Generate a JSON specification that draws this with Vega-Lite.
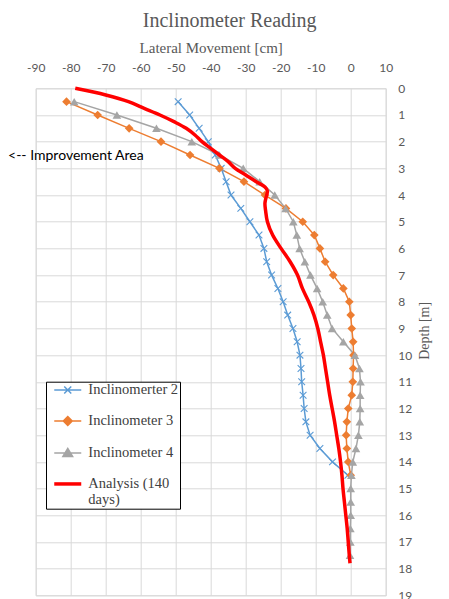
{
  "$schema": "https://vega.github.io/schema/vega-lite/v6.json",
  "width": 350,
  "height": 507,
  "autosize": {"type": "none"},
  "padding": {"left": 35.7, "top": 88.3, "right": 63.3, "bottom": 3.7},
  "background": "white",
  "config": {
    "view": {"stroke": "#D9D9D9"},
    "axis": {
      "grid": true,
      "gridColor": "#D9D9D9",
      "gridWidth": 1,
      "ticks": false,
      "domain": false,
      "labelFont": "Lato",
      "labelFontSize": 12,
      "labelColor": "#595959",
      "labelFlush": false,
      "labelOverlap": false,
      "titleFont": "Liberation Serif",
      "titleFontWeight": "normal",
      "titleColor": "#595959"
    },
    "legend": {"labelFont": "Liberation Serif"}
  },
  "title": {
    "text": "Inclinometer Reading",
    "font": "Liberation Serif",
    "fontSize": 20,
    "fontWeight": "normal",
    "color": "#595959",
    "anchor": "middle",
    "dx": 19,
    "offset": 9
  },
  "data": {
    "values": [
      {"series": "Inclinomerter 2", "depth": 0.5, "movement": -49.3},
      {"series": "Inclinomerter 2", "depth": 1.0, "movement": -46.0},
      {"series": "Inclinomerter 2", "depth": 1.5, "movement": -43.3},
      {"series": "Inclinomerter 2", "depth": 2.0, "movement": -40.7},
      {"series": "Inclinomerter 2", "depth": 2.5, "movement": -38.7},
      {"series": "Inclinomerter 2", "depth": 3.0, "movement": -37.0},
      {"series": "Inclinomerter 2", "depth": 3.5, "movement": -35.6},
      {"series": "Inclinomerter 2", "depth": 4.0, "movement": -34.2},
      {"series": "Inclinomerter 2", "depth": 4.5, "movement": -31.4},
      {"series": "Inclinomerter 2", "depth": 5.0, "movement": -28.8},
      {"series": "Inclinomerter 2", "depth": 5.5, "movement": -26.2},
      {"series": "Inclinomerter 2", "depth": 6.0, "movement": -24.8},
      {"series": "Inclinomerter 2", "depth": 6.5, "movement": -24.0},
      {"series": "Inclinomerter 2", "depth": 7.0, "movement": -22.6},
      {"series": "Inclinomerter 2", "depth": 7.5, "movement": -20.8},
      {"series": "Inclinomerter 2", "depth": 8.0, "movement": -19.3},
      {"series": "Inclinomerter 2", "depth": 8.5, "movement": -18.0},
      {"series": "Inclinomerter 2", "depth": 9.0, "movement": -16.5},
      {"series": "Inclinomerter 2", "depth": 9.5, "movement": -15.3},
      {"series": "Inclinomerter 2", "depth": 10.0, "movement": -14.5},
      {"series": "Inclinomerter 2", "depth": 10.5, "movement": -14.2},
      {"series": "Inclinomerter 2", "depth": 11.0, "movement": -14.0},
      {"series": "Inclinomerter 2", "depth": 11.5, "movement": -13.6},
      {"series": "Inclinomerter 2", "depth": 12.0, "movement": -13.3},
      {"series": "Inclinomerter 2", "depth": 12.5, "movement": -12.8},
      {"series": "Inclinomerter 2", "depth": 13.0, "movement": -11.6},
      {"series": "Inclinomerter 2", "depth": 13.5, "movement": -8.8},
      {"series": "Inclinomerter 2", "depth": 14.0, "movement": -5.2},
      {"series": "Inclinomerter 2", "depth": 14.5, "movement": -0.8},

      {"series": "Inclinometer 3", "depth": 0.5, "movement": -81.2},
      {"series": "Inclinometer 3", "depth": 1.0, "movement": -72.3},
      {"series": "Inclinometer 3", "depth": 1.5, "movement": -63.3},
      {"series": "Inclinometer 3", "depth": 2.0, "movement": -54.2},
      {"series": "Inclinometer 3", "depth": 2.5, "movement": -45.9},
      {"series": "Inclinometer 3", "depth": 3.0, "movement": -37.5},
      {"series": "Inclinometer 3", "depth": 3.5, "movement": -30.5},
      {"series": "Inclinometer 3", "depth": 4.0, "movement": -24.5},
      {"series": "Inclinometer 3", "depth": 4.5, "movement": -18.5},
      {"series": "Inclinometer 3", "depth": 5.0, "movement": -13.7},
      {"series": "Inclinometer 3", "depth": 5.5, "movement": -10.4},
      {"series": "Inclinometer 3", "depth": 6.0, "movement": -8.8},
      {"series": "Inclinometer 3", "depth": 6.5, "movement": -7.3},
      {"series": "Inclinometer 3", "depth": 7.0, "movement": -5.0},
      {"series": "Inclinometer 3", "depth": 7.5, "movement": -2.1},
      {"series": "Inclinometer 3", "depth": 8.0, "movement": -0.4},
      {"series": "Inclinometer 3", "depth": 8.5, "movement": 0.0},
      {"series": "Inclinometer 3", "depth": 9.0, "movement": 0.3},
      {"series": "Inclinometer 3", "depth": 9.5, "movement": 0.7},
      {"series": "Inclinometer 3", "depth": 10.0, "movement": 0.8},
      {"series": "Inclinometer 3", "depth": 10.5, "movement": 0.7},
      {"series": "Inclinometer 3", "depth": 11.0, "movement": 0.6},
      {"series": "Inclinometer 3", "depth": 11.5, "movement": 0.3},
      {"series": "Inclinometer 3", "depth": 12.0, "movement": -0.7},
      {"series": "Inclinometer 3", "depth": 12.5, "movement": -1.1},
      {"series": "Inclinometer 3", "depth": 13.0, "movement": -1.3},
      {"series": "Inclinometer 3", "depth": 13.5, "movement": -1.1},
      {"series": "Inclinometer 3", "depth": 14.0, "movement": -0.7},
      {"series": "Inclinometer 3", "depth": 14.5, "movement": 0.0},

      {"series": "Inclinometer 4", "depth": 0.5, "movement": -79.0},
      {"series": "Inclinometer 4", "depth": 1.0, "movement": -66.8},
      {"series": "Inclinometer 4", "depth": 1.5, "movement": -55.5},
      {"series": "Inclinometer 4", "depth": 2.0, "movement": -45.4},
      {"series": "Inclinometer 4", "depth": 2.5, "movement": -37.5},
      {"series": "Inclinometer 4", "depth": 3.0, "movement": -30.7},
      {"series": "Inclinometer 4", "depth": 3.5, "movement": -26.0},
      {"series": "Inclinometer 4", "depth": 4.0, "movement": -21.7},
      {"series": "Inclinometer 4", "depth": 4.5, "movement": -18.6},
      {"series": "Inclinometer 4", "depth": 5.0, "movement": -16.4},
      {"series": "Inclinometer 4", "depth": 5.5, "movement": -15.4},
      {"series": "Inclinometer 4", "depth": 6.0, "movement": -14.6},
      {"series": "Inclinometer 4", "depth": 6.5, "movement": -13.1},
      {"series": "Inclinometer 4", "depth": 7.0, "movement": -11.5},
      {"series": "Inclinometer 4", "depth": 7.5, "movement": -9.6},
      {"series": "Inclinometer 4", "depth": 8.0, "movement": -8.0},
      {"series": "Inclinometer 4", "depth": 8.5, "movement": -6.7},
      {"series": "Inclinometer 4", "depth": 9.0, "movement": -5.3},
      {"series": "Inclinometer 4", "depth": 9.5, "movement": -2.1},
      {"series": "Inclinometer 4", "depth": 10.0, "movement": 1.2},
      {"series": "Inclinometer 4", "depth": 10.5, "movement": 2.5},
      {"series": "Inclinometer 4", "depth": 11.0, "movement": 2.8},
      {"series": "Inclinometer 4", "depth": 11.5, "movement": 2.7},
      {"series": "Inclinometer 4", "depth": 12.0, "movement": 2.7},
      {"series": "Inclinometer 4", "depth": 12.5, "movement": 2.6},
      {"series": "Inclinometer 4", "depth": 13.0, "movement": 2.2},
      {"series": "Inclinometer 4", "depth": 13.5, "movement": 1.5},
      {"series": "Inclinometer 4", "depth": 14.0, "movement": 0.6},
      {"series": "Inclinometer 4", "depth": 14.5, "movement": 0.2},
      {"series": "Inclinometer 4", "depth": 15.0, "movement": 0.0},
      {"series": "Inclinometer 4", "depth": 15.5, "movement": 0.0},
      {"series": "Inclinometer 4", "depth": 16.0, "movement": 0.0},
      {"series": "Inclinometer 4", "depth": 16.5, "movement": -0.1},
      {"series": "Inclinometer 4", "depth": 17.0, "movement": -0.1},
      {"series": "Inclinometer 4", "depth": 17.5, "movement": -0.2},

      {"series": "Analysis (140 days)", "depth": 0.0, "movement": -78.7},
      {"series": "Analysis (140 days)", "depth": 0.25, "movement": -70.0},
      {"series": "Analysis (140 days)", "depth": 0.5, "movement": -63.5},
      {"series": "Analysis (140 days)", "depth": 0.75, "movement": -59.0},
      {"series": "Analysis (140 days)", "depth": 1.0, "movement": -54.5},
      {"series": "Analysis (140 days)", "depth": 1.25, "movement": -50.5},
      {"series": "Analysis (140 days)", "depth": 1.5, "movement": -47.0},
      {"series": "Analysis (140 days)", "depth": 1.75, "movement": -44.5},
      {"series": "Analysis (140 days)", "depth": 2.0, "movement": -42.5},
      {"series": "Analysis (140 days)", "depth": 2.25, "movement": -40.0},
      {"series": "Analysis (140 days)", "depth": 2.5, "movement": -37.5},
      {"series": "Analysis (140 days)", "depth": 2.75, "movement": -35.0},
      {"series": "Analysis (140 days)", "depth": 3.0, "movement": -33.0},
      {"series": "Analysis (140 days)", "depth": 3.25, "movement": -30.0},
      {"series": "Analysis (140 days)", "depth": 3.5, "movement": -27.0},
      {"series": "Analysis (140 days)", "depth": 3.7, "movement": -24.5},
      {"series": "Analysis (140 days)", "depth": 3.85, "movement": -23.8},
      {"series": "Analysis (140 days)", "depth": 4.0, "movement": -24.0},
      {"series": "Analysis (140 days)", "depth": 4.3, "movement": -24.5},
      {"series": "Analysis (140 days)", "depth": 4.6, "movement": -24.3},
      {"series": "Analysis (140 days)", "depth": 5.0, "movement": -23.8},
      {"series": "Analysis (140 days)", "depth": 5.5, "movement": -22.3},
      {"series": "Analysis (140 days)", "depth": 6.0, "movement": -19.9},
      {"series": "Analysis (140 days)", "depth": 6.5, "movement": -17.3},
      {"series": "Analysis (140 days)", "depth": 7.0, "movement": -15.2},
      {"series": "Analysis (140 days)", "depth": 7.5, "movement": -13.8},
      {"series": "Analysis (140 days)", "depth": 8.0, "movement": -12.0},
      {"series": "Analysis (140 days)", "depth": 8.5, "movement": -10.5},
      {"series": "Analysis (140 days)", "depth": 9.0, "movement": -9.4},
      {"series": "Analysis (140 days)", "depth": 9.5, "movement": -8.6},
      {"series": "Analysis (140 days)", "depth": 10.0, "movement": -7.8},
      {"series": "Analysis (140 days)", "depth": 10.5, "movement": -7.2},
      {"series": "Analysis (140 days)", "depth": 11.0, "movement": -6.6},
      {"series": "Analysis (140 days)", "depth": 11.5, "movement": -6.0},
      {"series": "Analysis (140 days)", "depth": 12.0, "movement": -5.3},
      {"series": "Analysis (140 days)", "depth": 12.5, "movement": -4.6},
      {"series": "Analysis (140 days)", "depth": 13.0, "movement": -4.0},
      {"series": "Analysis (140 days)", "depth": 13.5, "movement": -3.4},
      {"series": "Analysis (140 days)", "depth": 14.0, "movement": -2.9},
      {"series": "Analysis (140 days)", "depth": 14.5, "movement": -2.5},
      {"series": "Analysis (140 days)", "depth": 15.0, "movement": -2.2},
      {"series": "Analysis (140 days)", "depth": 15.5, "movement": -1.8},
      {"series": "Analysis (140 days)", "depth": 16.0, "movement": -1.4},
      {"series": "Analysis (140 days)", "depth": 16.5, "movement": -1.0},
      {"series": "Analysis (140 days)", "depth": 17.0, "movement": -0.7},
      {"series": "Analysis (140 days)", "depth": 17.5, "movement": -0.4},
      {"series": "Analysis (140 days)", "depth": 17.8, "movement": -0.2}
    ]
  },
  "encoding": {
    "x": {
      "field": "movement",
      "type": "quantitative",
      "scale": {"domain": [-90, 10], "nice": false, "zero": false},
      "axis": {
        "orient": "top",
        "values": [-90, -80, -70, -60, -50, -40, -30, -20, -10, 0, 10],
        "labelExpr": "'' + datum.value",
        "labelPadding": 14,
        "title": "Lateral Movement [cm]",
        "titleFontSize": 15,
        "titlePadding": 6
      }
    },
    "y": {
      "field": "depth",
      "type": "quantitative",
      "scale": {"domain": [0, 19], "nice": false, "zero": false, "reverse": true},
      "axis": {
        "orient": "right",
        "values": [0, 1, 2, 3, 4, 5, 6, 7, 8, 9, 10, 11, 12, 13, 14, 15, 16, 17, 18, 19],
        "labelPadding": 12,
        "labelAlign": "left",
        "title": "Depth [m]",
        "titleFontSize": 14,
        "titleAngle": 270,
        "titleAlign": "center",
        "titleBaseline": "middle",
        "titleX": 39,
        "titleY": 242
      }
    },
    "order": {"field": "depth", "type": "quantitative"}
  },
  "layer": [
    {
      "transform": [{"filter": "datum.series !== 'Analysis (140 days)'"}],
      "mark": {"type": "line", "strokeWidth": 1.5},
      "encoding": {
        "color": {
          "field": "series",
          "type": "nominal",
          "scale": {
            "domain": ["Inclinomerter 2", "Inclinometer 3", "Inclinometer 4", "Analysis (140 days)"],
            "range": ["#5B9BD5", "#ED7D31", "#A5A5A5", "#FF0000"]
          },
          "legend": {
            "orient": "none",
            "legendX": 10.3,
            "legendY": 293.4,
            "direction": "vertical",
            "title": null,
            "values": ["Inclinomerter 2", "Inclinometer 3", "Inclinometer 4", "Analysis (140 days)"],
            "fillColor": "white",
            "strokeColor": "black",
            "padding": 1,
            "rowPadding": 16,
            "symbolSize": 729,
            "symbolOffset": 13.5,
            "labelOffset": 13.3,
            "labelFont": "Liberation Serif",
            "labelFontSize": 14.5,
            "labelColor": "#404040",
            "labelLimit": 200,
            "labelExpr": "datum.value == 'Analysis (140 days)' ? ['Analysis (140', 'days)'] : datum.label",
            "encode": {
              "labels": {
                "update": {
                  "font": {"value": "Liberation Serif"}
                }
              },
              "symbols": {
                "update": {
                  "shape": {"signal": "datum.value == 'Inclinomerter 2' ? 'M-1,0L1,0M-0.26,-0.26L0.26,0.26M-0.26,0.26L0.26,-0.26' : datum.value == 'Inclinometer 3' ? 'M-1,0L1,0M0,-0.33L0.33,0L0,0.33L-0.33,0Z' : datum.value == 'Inclinometer 4' ? 'M-1,0L1,0M0,-0.34L0.36,0.26L-0.36,0.26Z' : 'M-1,0L1,0'"},
                  "fill": {"signal": "scale('color', datum.value)"},
                  "stroke": {"signal": "scale('color', datum.value)"},
                  "strokeWidth": {"signal": "datum.value == 'Analysis (140 days)' ? 3.5 : 1.5"},
                  "opacity": {"value": 1},
                  "fillOpacity": {"value": 1}
                }
              }
            }
          }
        }
      }
    },
    {
      "transform": [{"filter": "datum.series === 'Inclinomerter 2'"}],
      "mark": {"type": "point", "shape": "M-1,-1L1,1M-1,1L1,-1", "size": 45, "strokeWidth": 1.1, "filled": false, "opacity": 1},
      "encoding": {"color": {"field": "series", "type": "nominal"}}
    },
    {
      "transform": [{"filter": "datum.series === 'Inclinometer 3' || datum.series === 'Inclinometer 4'"}],
      "mark": {"type": "point", "filled": true, "size": 75, "opacity": 1},
      "encoding": {
        "color": {"field": "series", "type": "nominal"},
        "shape": {
          "field": "series",
          "type": "nominal",
          "scale": {"domain": ["Inclinometer 3", "Inclinometer 4"], "range": ["diamond", "triangle-up"]},
          "legend": null
        }
      }
    },
    {
      "transform": [{"filter": "datum.series === 'Analysis (140 days)'"}],
      "mark": {"type": "line", "strokeWidth": 3.5, "interpolate": "catmull-rom"},
      "encoding": {"color": {"field": "series", "type": "nominal"}}
    },
    {
      "data": {"values": [{"note": "<-- Improvement Area", "movement": -97.9, "depth": 2.55}]},
      "mark": {"type": "text", "align": "left", "baseline": "middle", "font": "Lato", "fontSize": 14, "color": "black", "clip": false},
      "encoding": {
        "x": {"field": "movement", "type": "quantitative"},
        "y": {"field": "depth", "type": "quantitative"},
        "text": {"field": "note"},
        "order": null
      }
    }
  ]
}
